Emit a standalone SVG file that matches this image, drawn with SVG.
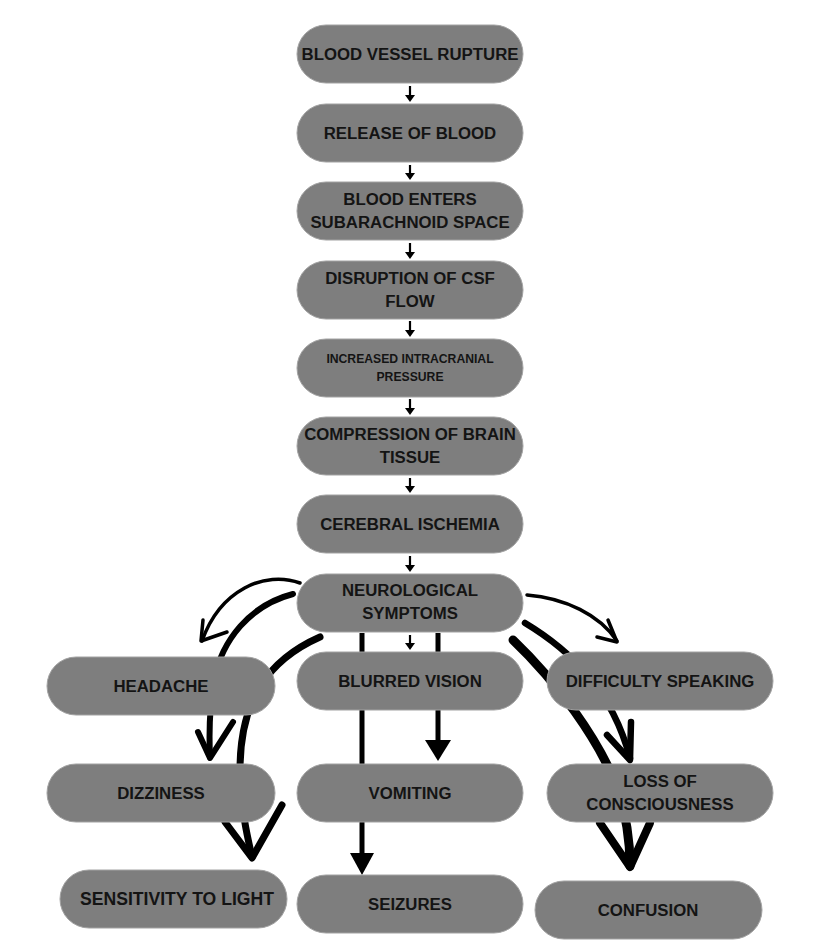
<svg xmlns="http://www.w3.org/2000/svg" width="829" height="952" viewBox="0 0 829 952">
<style>
.node rect{fill:#7e7e7e;stroke:#a2a2a2;stroke-width:1}
.node text{font-family:"Liberation Sans",Arial,sans-serif;font-weight:bold;font-size:16.8px;fill:#141414;text-anchor:middle}
.small{fill:none;stroke:#000;stroke-width:2.2}
.curve{fill:none;stroke:#000;stroke-linecap:round;stroke-linejoin:round}
</style>
<rect width="829" height="952" fill="#ffffff"/>
<g id="connectors">
  <g class="small">
    <line x1="410" y1="86" x2="410" y2="97"/>
    <line x1="410" y1="165" x2="410" y2="175"/>
    <line x1="410" y1="243" x2="410" y2="254"/>
    <line x1="410" y1="321" x2="410" y2="332"/>
    <line x1="410" y1="399" x2="410" y2="410"/>
    <line x1="410" y1="478" x2="410" y2="488"/>
    <line x1="410" y1="556" x2="410" y2="567"/>
    <line x1="410" y1="635" x2="410" y2="645"/>
  </g>
  <g fill="#000">
    <polygon points="405,95 415,95 410,102"/>
    <polygon points="405,173 415,173 410,180"/>
    <polygon points="405,252 415,252 410,259"/>
    <polygon points="405,330 415,330 410,337"/>
    <polygon points="405,408 415,408 410,415"/>
    <polygon points="405,486 415,486 410,493"/>
    <polygon points="405,565 415,565 410,572"/>
    <polygon points="405,643 415,643 410,650"/>
  </g>
  <line x1="362" y1="633" x2="362" y2="856" stroke="#000" stroke-width="5"/>
  <polygon points="350,853 374,853 362,875" fill="#000"/>
  <line x1="438" y1="633" x2="438" y2="743" stroke="#000" stroke-width="5"/>
  <polygon points="425,740 451,740 438,761" fill="#000"/>
  <!-- left curves -->
  <path class="curve" stroke-width="3.5" d="M300,583 C265,570 220,590 202,641"/>
  <path class="curve" stroke-width="3.5" d="M203,620 L201,641 L227,632"/>
  <path class="curve" stroke-width="6" d="M293,594 C250,605 222,640 214,680 C209,710 209,735 210,757"/>
  <path class="curve" stroke-width="6" d="M198,732 L210,758 L233,722"/>
  <path class="curve" stroke-width="7" d="M320,637 C268,660 240,700 240,770 C241,810 247,835 252,857"/>
  <path class="curve" stroke-width="7" d="M225,822 L252,858 L282,805"/>
  <!-- right curves -->
  <path class="curve" stroke-width="3.5" d="M527,595 C565,598 600,615 617,641"/>
  <path class="curve" stroke-width="3.5" d="M608,620 L617,642 L597,637"/>
  <path class="curve" stroke-width="6.5" d="M525,623 C570,650 612,690 630,758"/>
  <path class="curve" stroke-width="6.5" d="M607,735 L630,760 L631,722"/>
  <path class="curve" stroke-width="9" d="M513,640 C555,680 600,740 618,790 C626,815 630,840 630,866"/>
  <path class="curve" stroke-width="8" d="M600,823 L630,867 L650,823"/>
</g>
<g id="n1" class="node"><rect x="297" y="25" width="226" height="58" rx="29"/><text x="410" y="60">BLOOD VESSEL RUPTURE</text></g>
<g id="n2" class="node"><rect x="297" y="104" width="226" height="58" rx="29"/><text x="410" y="139">RELEASE OF BLOOD</text></g>
<g id="n3" class="node"><rect x="297" y="182" width="226" height="58" rx="29"/><text x="410" y="205">BLOOD ENTERS</text><text x="410" y="228">SUBARACHNOID SPACE</text></g>
<g id="n4" class="node"><rect x="297" y="261" width="226" height="58" rx="29"/><text x="410" y="284">DISRUPTION OF CSF</text><text x="410" y="307">FLOW</text></g>
<g id="n5" class="node"><rect x="297" y="339" width="226" height="58" rx="29"/><text x="410" y="363" style="font-size:12.2px">INCREASED INTRACRANIAL</text><text x="410" y="381" style="font-size:12.2px">PRESSURE</text></g>
<g id="n6" class="node"><rect x="297" y="417" width="226" height="58" rx="29"/><text x="410" y="440">COMPRESSION OF BRAIN</text><text x="410" y="463">TISSUE</text></g>
<g id="n7" class="node"><rect x="297" y="495" width="226" height="58" rx="29"/><text x="410" y="530">CEREBRAL ISCHEMIA</text></g>
<g id="n8" class="node"><rect x="297" y="574" width="226" height="58" rx="29"/><text x="410" y="596">NEUROLOGICAL</text><text x="410" y="619">SYMPTOMS</text></g>
<g id="blurred" class="node"><rect x="297" y="652" width="226" height="58" rx="29"/><text x="410" y="687">BLURRED VISION</text></g>
<g id="vomiting" class="node"><rect x="297" y="764" width="226" height="58" rx="29"/><text x="410" y="799">VOMITING</text></g>
<g id="seizures" class="node"><rect x="297" y="875" width="226" height="58" rx="29"/><text x="410" y="910">SEIZURES</text></g>
<g id="headache" class="node"><rect x="47" y="657" width="228" height="58" rx="29"/><text x="161" y="692">HEADACHE</text></g>
<g id="dizziness" class="node"><rect x="47" y="764" width="228" height="58" rx="29"/><text x="161" y="799">DIZZINESS</text></g>
<g id="sensitivity" class="node"><rect x="60" y="870" width="227" height="58" rx="29"/><text x="177" y="905" style="font-size:17.6px">SENSITIVITY TO LIGHT</text></g>
<g id="speaking" class="node"><rect x="547" y="652" width="226" height="58" rx="29"/><text x="660" y="687">DIFFICULTY SPEAKING</text></g>
<g id="loc" class="node"><rect x="547" y="764" width="226" height="58" rx="29"/><text x="660" y="787">LOSS OF</text><text x="660" y="810">CONSCIOUSNESS</text></g>
<g id="confusion" class="node"><rect x="535" y="881" width="227" height="58" rx="29"/><text x="648" y="916">CONFUSION</text></g>
</svg>
